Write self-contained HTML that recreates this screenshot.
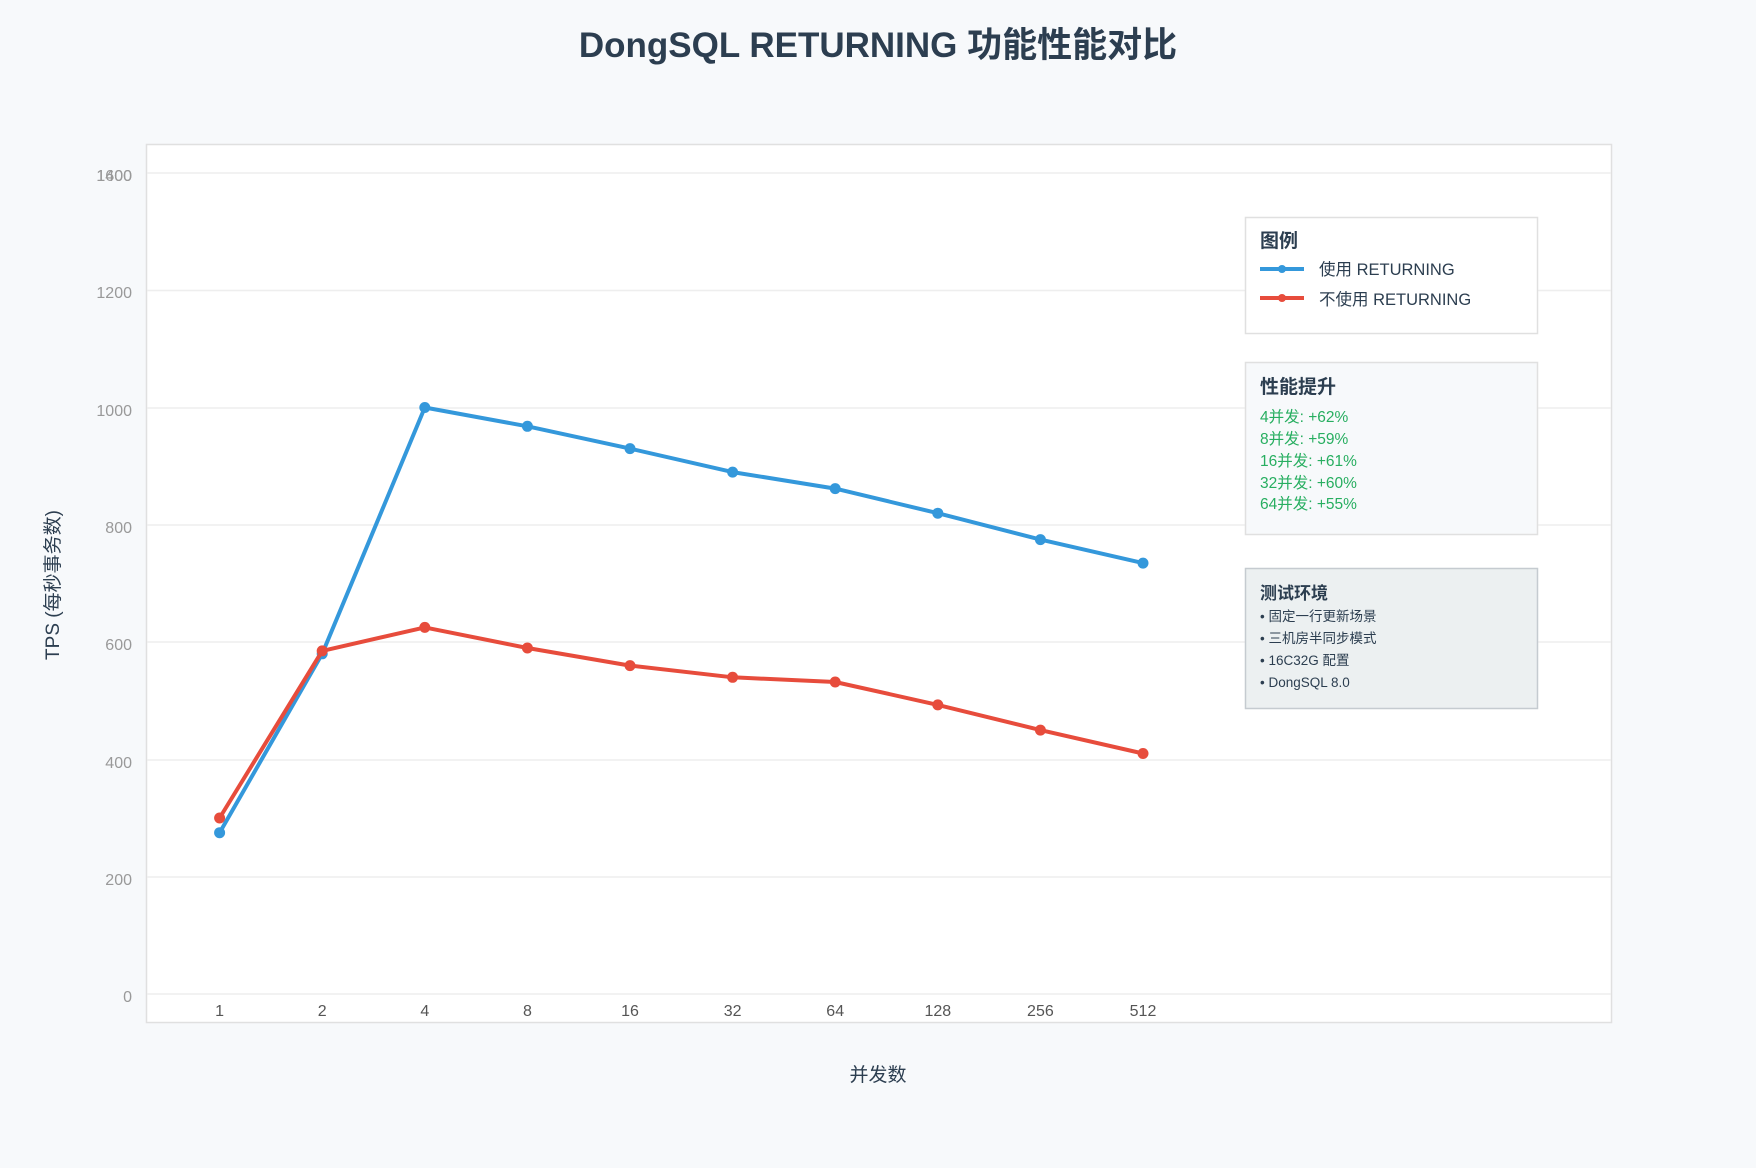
<!DOCTYPE html>
<html><head><meta charset="utf-8"><style>
html,body{margin:0;padding:0;background:#f7f9fb;}
svg{display:block;font-family:"Liberation Sans","Noto Sans CJK SC",sans-serif;}
</style></head><body>
<svg width="1756" height="1168" viewBox="0 0 1756 1168" xmlns="http://www.w3.org/2000/svg">
<rect width="1756" height="1168" fill="#f7f9fb"/>
<text x="878" y="57" text-anchor="middle" font-size="35" font-weight="bold" fill="#2c3e50">DongSQL RETURNING 功能性能对比</text>
<rect x="146.5" y="144.5" width="1465" height="878" fill="#fff" stroke="#e0e0e0" stroke-width="1.5"/>
<g stroke="#eeeeee" stroke-width="1.5">
<line x1="147" x2="1611" y1="173" y2="173"/>
<line x1="147" x2="1611" y1="290.5" y2="290.5"/>
<line x1="147" x2="1611" y1="408" y2="408"/>
<line x1="147" x2="1611" y1="525" y2="525"/>
<line x1="147" x2="1611" y1="642" y2="642"/>
<line x1="147" x2="1611" y1="760" y2="760"/>
<line x1="147" x2="1611" y1="877" y2="877"/>
<line x1="147" x2="1611" y1="994" y2="994"/>
</g>
<g font-size="16" fill="#999" text-anchor="end">
<text x="132" y="181">1400</text><text x="132" y="181">1600</text>
<text x="132" y="298">1200</text><text x="132" y="416">1000</text>
<text x="132" y="533">800</text><text x="132" y="650">600</text>
<text x="132" y="768">400</text><text x="132" y="885">200</text>
<text x="132" y="1002">0</text>
</g>
<g font-size="16" fill="#555" text-anchor="middle">
<text x="219.6" y="1016">1</text><text x="322.2" y="1016">2</text><text x="424.8" y="1016">4</text>
<text x="527.4" y="1016">8</text><text x="630" y="1016">16</text><text x="732.6" y="1016">32</text>
<text x="835.2" y="1016">64</text><text x="937.8" y="1016">128</text><text x="1040.4" y="1016">256</text>
<text x="1143" y="1016">512</text>
</g>
<text x="878" y="1081" text-anchor="middle" font-size="19" fill="#2c3e50">并发数</text>
<text transform="translate(59,585) rotate(-90)" text-anchor="middle" font-size="19" fill="#2c3e50">TPS (每秒事务数)</text>
<polyline fill="none" stroke="#3498db" stroke-width="4" stroke-linejoin="round" points="219.6,832.7 322.2,653.8 424.8,407.5 527.4,426.3 630,448.6 732.6,472.1 835.2,488.6 937.8,513.2 1040.4,539.6 1143,563.1"/>
<g fill="#3498db">
<circle cx="219.6" cy="832.7" r="5.5"/><circle cx="322.2" cy="653.8" r="5.5"/><circle cx="424.8" cy="407.5" r="5.5"/><circle cx="527.4" cy="426.3" r="5.5"/><circle cx="630" cy="448.6" r="5.5"/><circle cx="732.6" cy="472.1" r="5.5"/><circle cx="835.2" cy="488.6" r="5.5"/><circle cx="937.8" cy="513.2" r="5.5"/><circle cx="1040.4" cy="539.6" r="5.5"/><circle cx="1143" cy="563.1" r="5.5"/>
</g>
<polyline fill="none" stroke="#e74c3c" stroke-width="4" stroke-linejoin="round" points="219.6,818 322.2,650.9 424.8,627.4 527.4,648 630,665.6 732.6,677.3 835.2,682 937.8,704.9 1040.4,730.1 1143,753.5"/>
<g fill="#e74c3c">
<circle cx="219.6" cy="818" r="5.5"/><circle cx="322.2" cy="650.9" r="5.5"/><circle cx="424.8" cy="627.4" r="5.5"/><circle cx="527.4" cy="648" r="5.5"/><circle cx="630" cy="665.6" r="5.5"/><circle cx="732.6" cy="677.3" r="5.5"/><circle cx="835.2" cy="682" r="5.5"/><circle cx="937.8" cy="704.9" r="5.5"/><circle cx="1040.4" cy="730.1" r="5.5"/><circle cx="1143" cy="753.5" r="5.5"/>
</g>
<rect x="1245.5" y="217.5" width="292" height="116" fill="#fff" stroke="#e0e0e0" stroke-width="1.5"/>
<text x="1260" y="247" font-size="19" font-weight="bold" fill="#2c3e50">图例</text>
<line x1="1260" x2="1304" y1="269" y2="269" stroke="#3498db" stroke-width="4"/><circle cx="1282" cy="269" r="4" fill="#3498db"/>
<text x="1319" y="275" font-size="16.5" fill="#2c3e50">使用 RETURNING</text>
<line x1="1260" x2="1304" y1="298" y2="298" stroke="#e74c3c" stroke-width="4"/><circle cx="1282" cy="298" r="4" fill="#e74c3c"/>
<text x="1319" y="305" font-size="16.5" fill="#2c3e50">不使用 RETURNING</text>
<rect x="1245.5" y="362.5" width="292" height="172" fill="#f7f9fb" stroke="#e0e0e0" stroke-width="1.5"/>
<text x="1260" y="393" font-size="19" font-weight="bold" fill="#2c3e50">性能提升</text>
<g font-size="15.5" fill="#27ae60">
<text x="1260" y="422">4并发: +62%</text><text x="1260" y="444">8并发: +59%</text>
<text x="1260" y="466">16并发: +61%</text><text x="1260" y="488">32并发: +60%</text>
<text x="1260" y="509">64并发: +55%</text>
</g>
<rect x="1245.5" y="568.5" width="292" height="140" fill="#ecf0f1" stroke="#c5cbd0" stroke-width="1.5"/>
<text x="1260" y="599" font-size="17" font-weight="bold" fill="#2c3e50">测试环境</text>
<g font-size="13.5" fill="#2c3e50">
<text x="1260" y="621">• 固定一行更新场景</text><text x="1260" y="643">• 三机房半同步模式</text>
<text x="1260" y="665">• 16C32G 配置</text><text x="1260" y="687">• DongSQL 8.0</text>
</g>
</svg>
</body></html>
